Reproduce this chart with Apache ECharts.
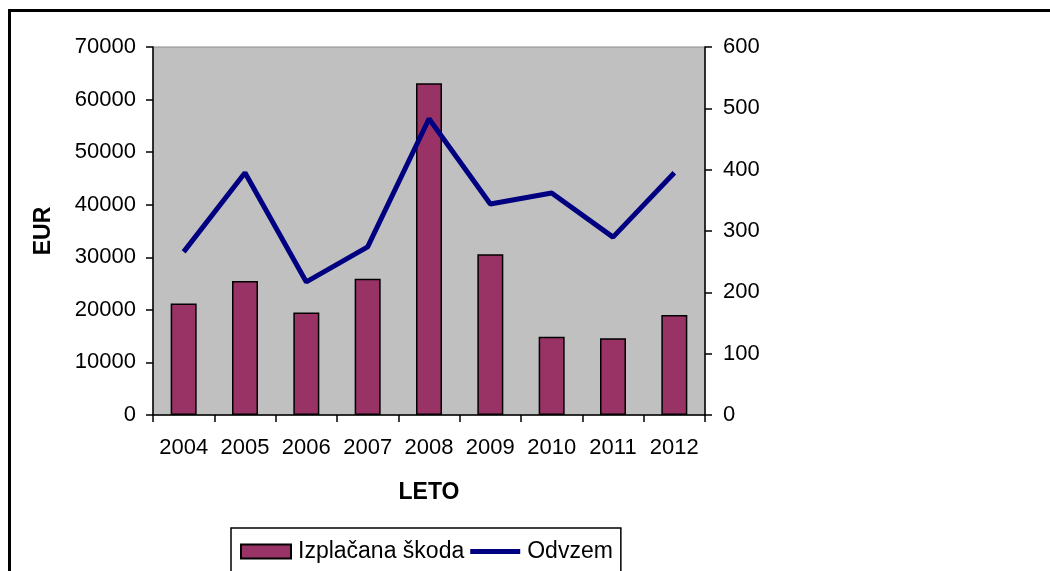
<!DOCTYPE html>
<html>
<head>
<meta charset="utf-8">
<script src="https://cdn.jsdelivr.net/npm/echarts@6/dist/echarts.min.js"></script>
<style>
html,body{margin:0;padding:0;background:#fff;}
#c{width:1050px;height:571px;}
</style>
</head>
<body>
<div id="c"></div>
<script>
const categories = ['2004','2005','2006','2007','2008','2009','2010','2011','2012'];
const skoda = [21200, 25500, 19500, 25900, 63100, 30600, 14900, 14600, 19000];
const odvzem = [266, 395, 217, 274, 483, 344, 362, 290, 395];
const leftTicks = {min: 0, max: 70000, interval: 10000};
const rightTicks = {min: 0, max: 600, interval: 100};

const FONT = '"Liberation Sans", Arial, sans-serif';
const plain = v => String(v);
const chart = echarts.init(document.getElementById('c'), null, {renderer: 'canvas'});
chart.setOption({
  animation: false,
  backgroundColor: '#fff',
  textStyle: {fontFamily: FONT, color: '#000'},
  graphic: [{
    type: 'rect', silent: true, z: 100,
    shape: {x: 9.5, y: 10.5, width: 1100, height: 600},
    style: {fill: 'none', stroke: '#000', lineWidth: 3}
  }],
  grid: {
    left: 153, right: 345, top: 47, bottom: 156,
    show: true, backgroundColor: '#c0c0c0', borderColor: '#8a8a8a', borderWidth: 1
  },
  legend: {
    left: 231, top: 528,
    padding: [12, 8, 40, 9],
    borderColor: '#000', borderWidth: 1.5,
    itemWidth: 50, itemHeight: 14, itemGap: 6,
    textStyle: {fontFamily: FONT, fontSize: 23, color: '#000', padding: [0, 0, 0, 2]},
    data: [
      {name: 'Izplačana škoda', icon: 'rect'},
      {name: 'Odvzem', icon: 'path://M0,0H52V5H0Z'}
    ]
  },
  xAxis: {
    type: 'category', data: categories,
    name: 'LETO', nameLocation: 'middle', nameGap: 66,
    nameTextStyle: {fontFamily: FONT, fontSize: 23, fontWeight: 'bold', color: '#000'},
    axisLine: {show: true, lineStyle: {color: '#000', width: 1.5}},
    axisTick: {show: true, length: 7, interval: 0, lineStyle: {color: '#000', width: 1.5}},
    axisLabel: {fontFamily: FONT, fontSize: 22, color: '#000', margin: 22, interval: 0},
    splitLine: {show: false}
  },
  yAxis: [{
    type: 'value', position: 'left',
    min: leftTicks.min, max: leftTicks.max, interval: leftTicks.interval,
    name: 'EUR', nameLocation: 'middle', nameGap: 98, nameRotate: 90,
    nameTextStyle: {fontFamily: FONT, fontSize: 23, fontWeight: 'bold', color: '#000'},
    axisLine: {show: true, lineStyle: {color: '#000', width: 1.5}},
    axisTick: {show: true, length: 7, lineStyle: {color: '#000', width: 1.5}},
    axisLabel: {fontFamily: FONT, fontSize: 22, color: '#000', margin: 17, formatter: plain},
    splitLine: {show: false}
  }, {
    type: 'value', position: 'right',
    min: rightTicks.min, max: rightTicks.max, interval: rightTicks.interval,
    axisLine: {show: true, lineStyle: {color: '#000', width: 1.5}},
    axisTick: {show: true, length: 7, lineStyle: {color: '#000', width: 1.5}},
    axisLabel: {fontFamily: FONT, fontSize: 22, color: '#000', margin: 18, formatter: plain},
    splitLine: {show: false}
  }],
  series: [{
    name: 'Izplačana škoda', type: 'bar', yAxisIndex: 0,
    data: skoda, barWidth: 26,
    itemStyle: {color: '#993366', borderColor: '#000', borderWidth: 1.5}
  }, {
    name: 'Odvzem', type: 'line', yAxisIndex: 1,
    data: odvzem, symbol: 'none',
    lineStyle: {color: '#000080', width: 5},
    itemStyle: {color: '#000080'}
  }]
});
</script>
</body>
</html>
